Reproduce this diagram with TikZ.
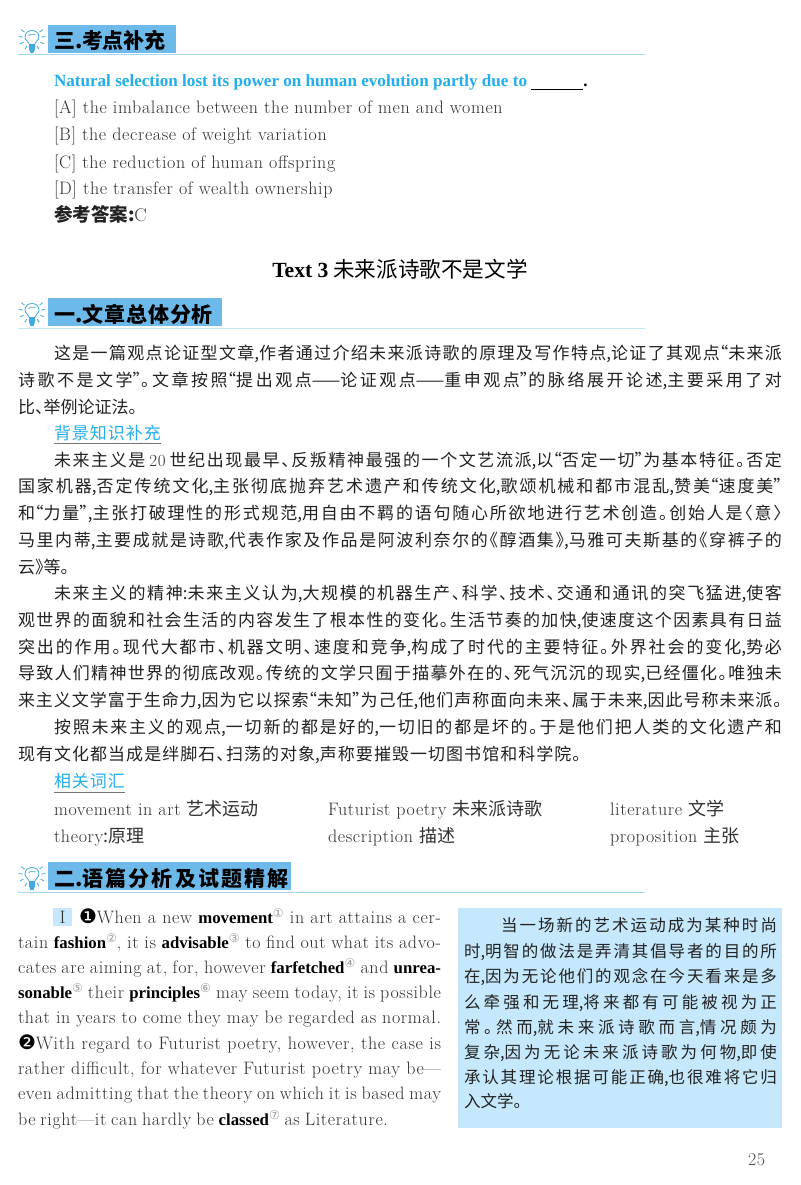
\documentclass[tikz,border=0pt]{standalone}
\usepackage{fontspec}
\setmainfont{Latin Modern Roman}[LetterSpace=3.5]
\newfontfamily\cjk{Noto Sans CJK SC}[RawFeature=+halt]
\newfontfamily\tbf{Liberation Serif Bold}
\newfontfamily\djv{DejaVu Sans}
\definecolor{ink}{HTML}{222222}
\definecolor{lat}{HTML}{303030}
\definecolor{headblue}{HTML}{6DB9E9}
\definecolor{rulecol}{HTML}{A5D8F0}
\definecolor{cyantext}{HTML}{22AEEE}
\definecolor{pale}{HTML}{C6E8FC}
\definecolor{bulbc}{HTML}{3FA9E0}
\hfuzz=200pt \overfullrule=0pt
\newcount\cc
\cc="2E80 \loop \XeTeXcharclass\cc=1 \advance\cc by 1 \ifnum\cc<"A000 \repeat
\cc="FF00 \loop \XeTeXcharclass\cc=1 \advance\cc by 1 \ifnum\cc<"FFF0 \repeat
\XeTeXinterchartoks 1 1 = {\hskip 0pt plus 1pt minus 0.6pt}
\XeTeXinterchartokenstate=1
\usetikzlibrary{calc}
\tikzset{
  txt/.style={anchor=base west,inner sep=0pt,outer sep=0pt,text=ink,font=\fontsize{17}{20}\selectfont\cjk},
  eng/.style={anchor=base west,inner sep=0pt,outer sep=0pt,text=lat,font=\fontsize{18}{20}\selectfont},
  sidet/.style={txt,font=\fontsize{16.5}{20}\selectfont\cjk},
  headbox/.style={fill=headblue,draw=none,inner sep=0pt,outer sep=0pt,anchor=north west},
  headt/.style={txt,text=black,font=\fontsize{21}{24}\selectfont\cjk\bfseries},
  headrule/.style={draw=rulecol,line width=1pt},
  ray/.style={draw=bulbc,line width=.8pt},
  under/.style={draw=black!55,line width=.7pt},
}
\newcommand\tx[5]{\node[txt] (#1) at (#2,#3) {\makebox[#4pt][s]{#5}};}
\newcommand\en[5]{\node[eng] (#1) at (#2,#3) {\makebox[#4pt][s]{#5}};}
\newcommand\sd[5]{\node[sidet] (#1) at (#2,#3) {\makebox[#4pt][s]{#5}};}
\newcommand\bb[1]{{\fontsize{16.8}{20}\selectfont\tbf\color{black}#1}}
\newcommand\mk[1]{\raisebox{6pt}{\fontsize{12}{12}\selectfont\djv\textcolor{black!40}{#1}}}
\newcommand\dm[1]{{\djv\fontsize{20}{20}\selectfont\color{black}#1}}
\newcommand\bulbicon[1]{%
  \begin{scope}[shift={(#1)}]
    \draw[draw=bulbc,line width=.8pt,fill=white] (-2.5,6.5) .. controls (-3,3) and (-7,3) .. (-7,-1) .. controls (-7,-5) and (-4,-7.5) .. (0,-7.5) .. controls (4,-7.5) and (7,-5) .. (7,-1) .. controls (7,3) and (3,3) .. (2.5,6.5) -- cycle;
    \draw[draw=bulbc,line width=.6pt] (-3.5,-2) .. controls (-2,-4.5) and (2,-4) .. (3.5,-3);
    \fill[bulbc] (-3,6.5) -- (3,6.5) -- (3,11) -- (1.5,15) -- (-1.5,15) -- (-3,11) -- cycle;
    \foreach \a in {0,-32,32,-64,64,-96,96,-128,128}{
      \draw[ray] ($(0,0)+(90+\a:9.5)$) -- ($(0,0)+(90+\a:13.5)$);
    }
  \end{scope}}
\begin{document}
\begin{tikzpicture}[x=1pt,y=-1pt]
\useasboundingbox (0,0) rectangle (800,1185);
\fill[white] (0,0) rectangle (800,1185);

% heading 1
\node[headbox,minimum width=128pt,minimum height=28pt] (h1box) at (48,25) {};
\bulbicon{32,38}
\node[headt] (h1t) at (54,49) {\makebox[111pt][s]{三.考点补充}};
\coordinate (h1a) at (18,55); \coordinate (h1b) at (645,55);
\draw[headrule] (h1a) -- (h1b);

\node[eng,text=cyantext,font=\fontsize{17.1}{20}\selectfont\tbf] (q) at (54,87) {Natural selection lost its power on human evolution partly due to \textcolor{black}{\rule[-3pt]{52pt}{.8pt}.}};
\node[eng] (oa) at (54,114) {[A] the imbalance between the number of men and women};
\node[eng] (ob) at (54,141) {[B] the decrease of weight variation};
\node[eng] (oc) at (54,168) {[C] the reduction of human offspring};
\node[eng] (od) at (54,194) {[D] the transfer of wealth ownership};
\node[txt,font=\fontsize{18.5}{20}\selectfont\cjk] (ans) at (54,221) {{\bfseries 参考答案}{\bfseries :}{\normalfont\color{lat}C}};

\node[txt,anchor=base,text=black,font=\fontsize{21.6}{24}\selectfont\cjk] (title) at (400,277) {{\tbf Text 3} 未来派诗歌不是文学};

% heading 2
\node[headbox,minimum width=174pt,minimum height=28pt] (h2box) at (48,298) {};
\bulbicon{32,311}
\node[headt] (h2t) at (54,322) {\makebox[159pt][s]{一.文章总体分析}};
\coordinate (h2a) at (18,328); \coordinate (h2b) at (645,328);
\draw[headrule,draw=rulecol!70] (h2a) -- (h2b);

\tx{p1}{54}{359}{728}{这是一篇观点论证型文章,作者通过介绍未来派诗歌的原理及写作特点,论证了其观点“未来派}
\tx{p2}{18}{386}{764}{诗歌不是文学”。文章按照“提出观点——论证观点——重申观点”的脉络展开论述,主要采用了对}
\node[txt] (p3) at (18,413) {比、举例论证法。};

\node[txt,text=cyantext] (bg) at (54,439) {\makebox[107pt][s]{背景知识补充}};
\coordinate (bga) at (54,443.5); \coordinate (bgb) at (161,443.5);
\draw[under] (bga) -- (bgb);

\tx{a1}{54}{466}{728}{未来主义是\hspace{4pt}{\normalfont\color{lat}20}\hspace{4pt}世纪出现最早、反叛精神最强的一个文艺流派,以“否定一切”为基本特征。否定}
\tx{a2}{18}{492}{764}{国家机器,否定传统文化,主张彻底抛弃艺术遗产和传统文化,歌颂机械和都市混乱,赞美“速度美”}
\tx{a3}{18}{519}{764}{和“力量”,主张打破理性的形式规范,用自由不羁的语句随心所欲地进行艺术创造。创始人是〈意〉}
\tx{a4}{18}{546}{764}{马里内蒂,主要成就是诗歌,代表作家及作品是阿波利奈尔的《醇酒集》,马雅可夫斯基的《穿裤子的}
\node[txt] (a5) at (18,573) {云》等。};

\tx{b1}{54}{599}{728}{未来主义的精神:未来主义认为,大规模的机器生产、科学、技术、交通和通讯的突飞猛进,使客}
\tx{b2}{18}{626}{764}{观世界的面貌和社会生活的内容发生了根本性的变化。生活节奏的加快,使速度这个因素具有日益}
\tx{b3}{18}{653}{764}{突出的作用。现代大都市、机器文明、速度和竞争,构成了时代的主要特征。外界社会的变化,势必}
\tx{b4}{18}{679}{764}{导致人们精神世界的彻底改观。传统的文学只囿于描摹外在的、死气沉沉的现实,已经僵化。唯独未}
\tx{b5}{18}{706}{764}{来主义文学富于生命力,因为它以探索“未知”为己任,他们声称面向未来、属于未来,因此号称未来派。}
\tx{c1}{54}{733}{728}{按照未来主义的观点,一切新的都是好的,一切旧的都是坏的。于是他们把人类的文化遗产和}
\node[txt] (c2) at (18,760) {\makebox[563pt][s]{现有文化都当成是绊脚石、扫荡的对象,声称要摧毁一切图书馆和科学院。}};

\node[txt,text=cyantext] (rel) at (54,787) {\makebox[71pt][s]{相关词汇}};
\coordinate (rela) at (54,792); \coordinate (relb) at (125,792);
\draw[under] (rela) -- (relb);

\node[eng] (v1) at (54,815) {movement in art {\cjk 艺术运动}};
\node[eng] (v2) at (328,815) {Futurist poetry {\cjk 未来派诗歌}};
\node[eng] (v3) at (610,815) {literature {\cjk 文学}};
\node[eng] (v4) at (54,842) {theory{\cjk :原理}};
\node[eng] (v5) at (328,842) {description {\cjk 描述}};
\node[eng] (v6) at (610,842) {proposition {\cjk 主张}};

% heading 3
\node[headbox,minimum width=243pt,minimum height=28pt] (h3box) at (48,862) {};
\bulbicon{32,875}
\node[headt] (h3t) at (54,886) {\makebox[235pt][s]{二.语篇分析及试题精解}};
\coordinate (h3a) at (18,892); \coordinate (h3b) at (645,892);
\draw[headrule] (h3a) -- (h3b);

% left column
\node[headbox,fill=pale,minimum width=19pt,minimum height=18pt] (rn) at (53,908) {};
\node[eng,anchor=center] (rnt) at (rn.center) {I};
\en{e1}{79}{923}{362}{\dm{❶}When a new \bb{movement}\mk{①} in art attains a cer-}
\en{e2}{18}{948}{423}{tain \bb{fashion}\mk{②}, it is \bb{advisable}\mk{③} to find out what its advo-}
\en{e3}{18}{973}{423}{cates are aiming at, for, however \bb{farfetched}\mk{④} and \bb{unrea-}}
\en{e4}{18}{998}{423}{\bb{sonable}\mk{⑤} their \bb{principles}\mk{⑥} may seem today, it is possible}
\en{e5}{18}{1023}{423}{that in years to come they may be regarded as normal.}
\en{e6}{18}{1049}{423}{\dm{❷}With regard to Futurist poetry, however, the case is}
\en{e7}{18}{1074}{423}{rather difficult, for whatever Futurist poetry may be—}
\en{e8}{18}{1099}{423}{even admitting that the theory on which it is based may}
\node[eng] (e9) at (18,1125) {\makebox[370pt][s]{be right—it can hardly be \bb{classed}\mk{⑦} as Literature.}};

% right box
\node[headbox,fill=pale,minimum width=324pt,minimum height=220pt] (side) at (458,908) {};
\sd{s1}{501}{931}{276}{当一场新的艺术运动成为某种时尚}
\sd{s2}{464}{957}{313}{时,明智的做法是弄清其倡导者的目的所}
\sd{s3}{464}{982}{313}{在,因为无论他们的观念在今天看来是多}
\sd{s4}{464}{1008}{313}{么牵强和无理,将来都有可能被视为正}
\sd{s5}{464}{1033}{313}{常。然而,就未来派诗歌而言,情况颇为}
\sd{s6}{464}{1058}{313}{复杂,因为无论未来派诗歌为何物,即使}
\sd{s7}{464}{1083}{313}{承认其理论根据可能正确,也很难将它归}
\node[sidet] (s8) at (464,1107) {入文学。};

\node[eng,text=black!70] (pg) at (748,1165) {25};
\end{tikzpicture}
\end{document}
